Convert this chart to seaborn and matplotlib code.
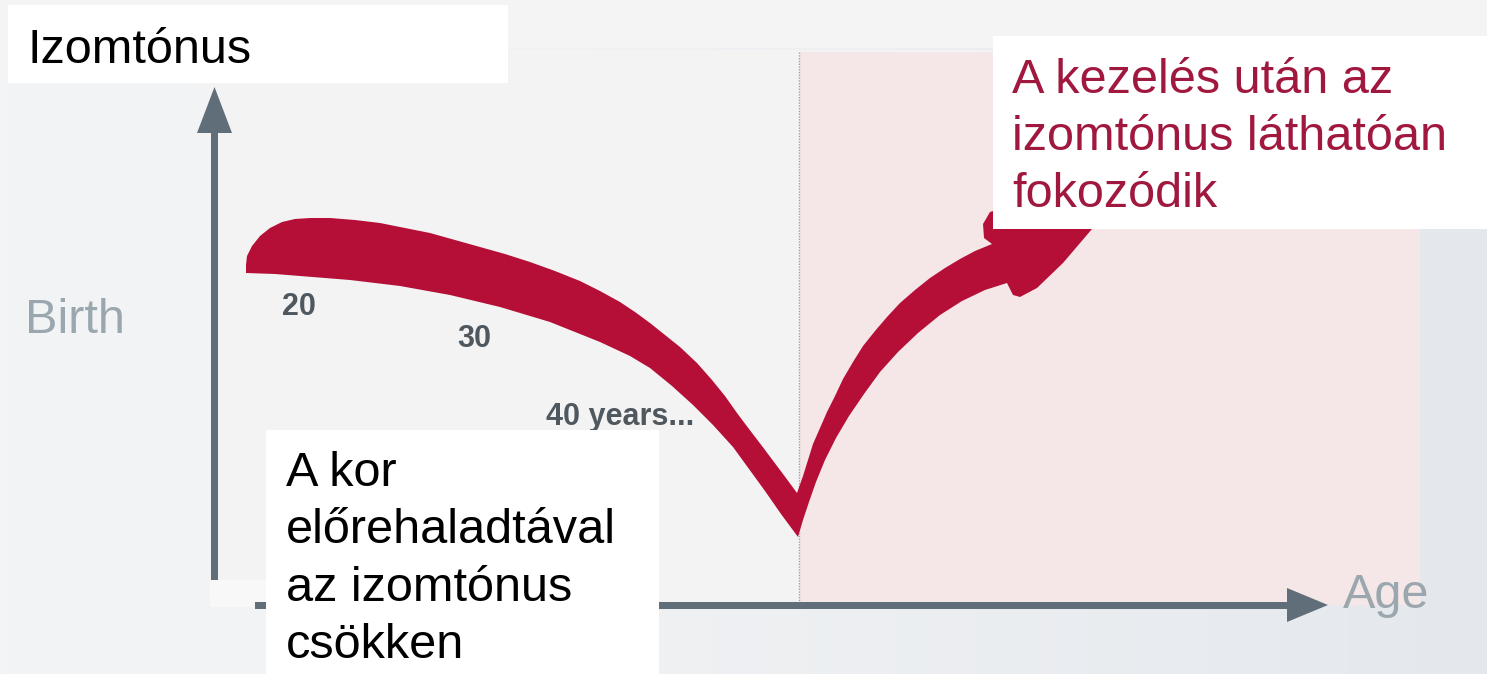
import numpy as np
import matplotlib
matplotlib.use("Agg")
import matplotlib.pyplot as plt
from matplotlib.patches import Rectangle, Polygon
import seaborn as sns

sns.set_theme(style="white")
plt.rcParams['font.family'] = ['Liberation Sans', 'DejaVu Sans']

# ---------------- data (image coordinates: x = age axis, y = tone, downwards) ----------------
# left arm (decline) lower edge, left -> right
decline_lower_x = [246, 275, 300, 350, 400, 450, 500, 550, 600, 630, 650, 672, 693, 713, 733, 749, 765, 781, 798]
decline_lower_y = [273, 274, 276, 280, 286, 295, 307, 322, 342, 356, 368, 386, 405, 425, 447, 469, 491, 514, 537]
# right arm (rise) inner edge, from the tip to the arrow head
rise_inner_x = [798, 803, 809, 816, 825, 836, 849, 864, 880, 898, 918, 940, 962, 985, 1007, 1013, 1020, 1037, 1063, 1092, 1112]
rise_inner_y = [537, 520, 502, 482, 460, 438, 416, 394, 372, 352, 333, 315, 301, 290, 283, 295, 297, 288, 263, 229, 195]
# right arm outer edge, from the arrow head back to the notch
rise_outer_x = [1060, 990, 983, 984, 992, 975, 960, 945, 930, 915, 900, 887, 875, 863, 853, 843, 835, 827, 820, 813, 808, 803, 797]
rise_outer_y = [190, 212, 224, 238, 244, 251, 259, 268, 278, 290, 303, 317, 331, 346, 362, 379, 396, 412, 428, 444, 460, 476, 493]
# left arm upper edge, from the notch back to the rounded start
decline_upper_x = [786, 774, 762, 749, 737, 725, 712, 697, 680, 665, 650, 635, 620, 600, 580, 555, 530, 505, 480, 455, 430, 405, 380, 355, 330, 310, 295, 282, 270, 260, 252, 247, 246]
decline_upper_y = [478, 462, 446, 429, 413, 396, 380, 363, 347, 335, 323, 312, 302, 291, 281, 271, 262, 254, 247, 240, 233, 228, 223, 220, 218, 218, 219, 222, 228, 236, 246, 256, 265]

age_labels = ["20", "30", "40 years..."]
age_label_x = [282, 457, 546]
age_label_y = [315, 347, 425]

y_title = "Izomtónus"
x_title = "Age"
start_label = "Birth"
decline_text = ["A kor", "előrehaladtával", "az izomtónus", "csökken"]
rise_text = ["A kezelés után az", "izomtónus láthatóan", "fokozódik"]

# ---------------- figure ----------------
W, H = 1487, 674
fig = plt.figure(figsize=(W / 100, H / 100), dpi=100)
fig.patch.set_facecolor("#eceef1")
ax = fig.add_axes([0, 0, 1, 1])
ax.set_xlim(0, W)
ax.set_ylim(H, 0)
ax.axis("off")

# background gradient (left lighter, right bluish)
grad = np.linspace(0, 1, 256) ** 1.5
bg = np.zeros((2, 256, 3))
c0 = np.array([0xf3, 0xf4, 0xf5]) / 255
c1 = np.array([0xe4, 0xe8, 0xed]) / 255
for i in range(3):
    bg[:, :, i] = c0[i] + (c1[i] - c0[i]) * grad
ax.imshow(bg, extent=[0, W, H, 0], aspect="auto", zorder=0)
ax.add_patch(Rectangle((0, 0), W, 48, color="#f4f4f5", zorder=0.5, lw=0))
# inner panel
ax.add_patch(Rectangle((205, 50), 1420 - 205, 555, color="#f3f3f4", zorder=1, lw=0))
# pink "after treatment" region
ax.add_patch(Rectangle((800, 52), 1420 - 800, 553, color="#f5e7e7", zorder=1.2, lw=0))
ax.add_patch(Rectangle((210, 580), 56, 27, color="#f8f8f8", zorder=1.3, lw=0))
# dotted separator
ax.plot([799, 799], [52, 605], color="#9aa0a6", lw=1.0, ls=(0, (1, 1)), zorder=1.5)

# axes arrows
axis_col = "#5f6e79"
ax.add_patch(Rectangle((210.5, 130), 7, 450, color=axis_col, zorder=2, lw=0))
ax.add_patch(Polygon([[197, 133], [232, 133], [214.5, 87]], closed=True, color=axis_col, zorder=2, lw=0))
ax.add_patch(Rectangle((255, 601.5), 1035, 7, color=axis_col, zorder=2, lw=0))
ax.add_patch(Polygon([[1287, 588], [1287, 622], [1328, 605]], closed=True, color=axis_col, zorder=2, lw=0))

# ribbon (muscle tone curve)
rx = np.concatenate([decline_lower_x, rise_inner_x, rise_outer_x, decline_upper_x])
ry = np.concatenate([decline_lower_y, rise_inner_y, rise_outer_y, decline_upper_y])
ax.fill(rx, ry, color="#b50f38", lw=0, zorder=3, antialiased=True)

# axis labels
ax.text(25, 333, start_label, fontsize=35, color="#9ba7ae", va="baseline", ha="left", zorder=4)
ax.text(1343, 608, x_title, fontsize=35, color="#9ba7ae", va="baseline", ha="left", zorder=4)
for lab, x, y in zip(age_labels, age_label_x, age_label_y):
    ax.text(x, y, lab, fontsize=22, fontweight="bold", color="#4f585f",
            va="baseline", ha="left", zorder=4)

# white text boxes
ax.add_patch(Rectangle((8, 5), 500, 78, color="white", zorder=5, lw=0))
ax.text(28, 63, y_title, fontsize=35, color="black", va="baseline", ha="left", zorder=6)

ax.add_patch(Rectangle((993, 36), W - 993, 193, color="white", zorder=5, lw=0))
for i, line in enumerate(rise_text):
    ax.text(1012, 93 + 57 * i, line, fontsize=35, color="#a0183e", va="baseline", ha="left", zorder=6)

ax.add_patch(Rectangle((266, 430), 659 - 266, H - 430, color="white", zorder=5, lw=0))
for i, line in enumerate(decline_text):
    ax.text(286, 486 + 57.3 * i, line, fontsize=35, color="black", va="baseline", ha="left", zorder=6)

fig.savefig("out.png", dpi=100, facecolor=fig.get_facecolor())
